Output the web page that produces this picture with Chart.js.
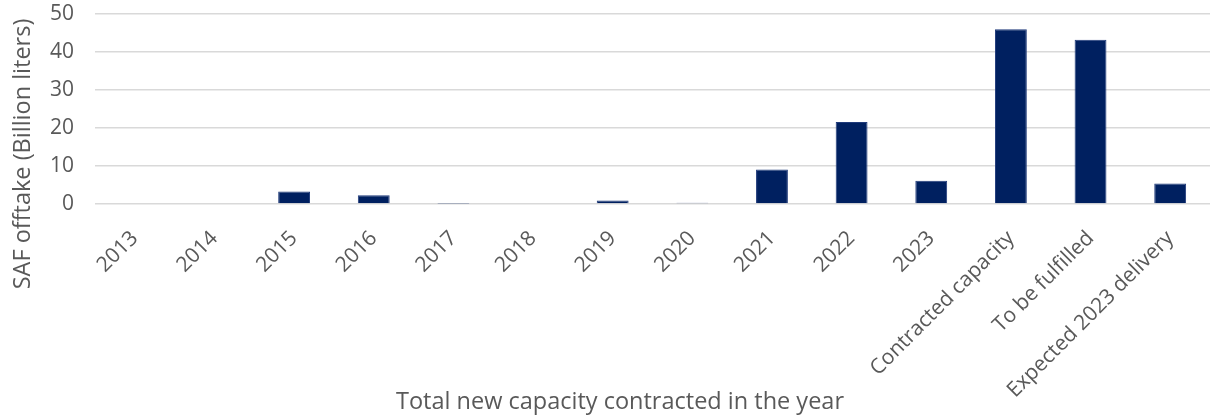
<!DOCTYPE html>
<html>
<head>
<meta charset="utf-8">
<script src="https://cdn.jsdelivr.net/npm/chart.js@4"></script>
<style>
  html, body { margin: 0; padding: 0; background: #fff; }
  #wrap { width: 1212px; height: 417px; }
</style>
</head>
<body>
<div id="wrap"><canvas id="myChart"></canvas></div>
<script>
"use strict";

// data
const categories = ['2013', '2014', '2015', '2016', '2017', '2018', '2019', '2020',
  '2021', '2022', '2023', 'Contracted capacity', 'To be fulfilled', 'Expected 2023 delivery'];
const offtake = [0, 0, 3.3, 2.3, 0.05, 0, 0.9, 0.35, 9.1, 21.6, 6.1, 46.0, 43.2, 5.4];
const yTicks = [0, 10, 20, 30, 40, 50];
const yTitle = 'SAF offtake (Billion liters)';
const xTitle = 'Total new capacity contracted in the year';

const textColor = '#595959';
const fontFamily = "'Open Sans', sans-serif";

// axis titles drawn by hand so they sit where Excel put them
const titlePlugin = {
    id: 'titles',
    afterDraw(chart) {
        const ctx = chart.ctx;
        ctx.save();
        ctx.fillStyle = textColor;
        ctx.font = '23.5px ' + fontFamily;
        ctx.textAlign = 'center';
        ctx.textBaseline = 'middle';
        ctx.fillText(xTitle, 620, 402);
        ctx.translate(23, 154);
        ctx.rotate(-Math.PI / 2);
        ctx.fillText(yTitle, 0, 0);
        ctx.restore();
    }
};

const config = {
    type: 'bar',
    data: {
        labels: categories,
        datasets: [{
            label: yTitle,
            data: offtake,
            backgroundColor: '#002060',
            borderColor: '#1f3a7a',
            borderWidth: 1,
            barPercentage: 0.4,
            categoryPercentage: 1
        }]
    },
    options: {
        responsive: true,
        maintainAspectRatio: false,
        animation: false,
        layout: { padding: { top: 14, right: 2, left: 0, bottom: 0 } },
        scales: {
            x: {
                grid: { display: false },
                border: { display: false },
                ticks: {
                    color: textColor,
                    font: { family: fontFamily, size: 21 },
                    minRotation: 45,
                    maxRotation: 45,
                    autoSkip: false,
                    padding: 14
                },
                afterFit(scale) {
                    scale.height = 417 - 14 - 190;
                    scale.paddingLeft = 0;
                    scale.paddingRight = 0;
                }
            },
            y: {
                min: 0,
                max: 50,
                afterBuildTicks(scale) { scale.ticks = yTicks.map(v => ({ value: v })); },
                grid: { color: '#d9d9d9', lineWidth: 1.5, drawTicks: false },
                border: { display: false },
                ticks: {
                    color: textColor,
                    font: { family: fontFamily, size: 21 },
                    padding: 21
                },
                afterFit(scale) {
                    scale.width = 95;
                    scale.paddingTop = 0;
                    scale.paddingBottom = 0;
                }
            }
        },
        plugins: {
            legend: { display: false },
            tooltip: { enabled: false }
        }
    },
    plugins: [titlePlugin]
};

const myChart = new Chart(document.getElementById('myChart'), config);
</script>
</body>
</html>
